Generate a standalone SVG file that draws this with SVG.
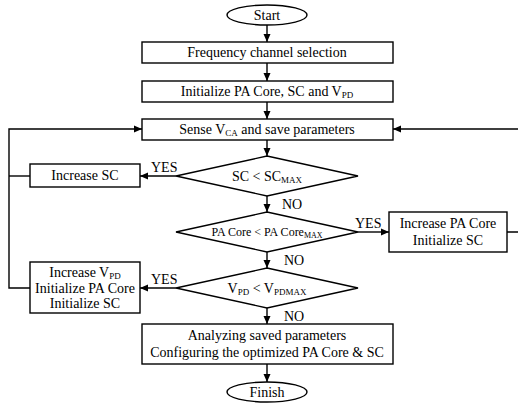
<svg xmlns="http://www.w3.org/2000/svg" width="518" height="405" viewBox="0 0 518 405">
<style>
.s{fill:none;stroke:#000;stroke-width:1.4}
.c{fill:none;stroke:#000;stroke-width:1.4}
text{font-family:'Liberation Serif',serif;font-size:14px;fill:#000;text-anchor:middle}
.sub{font-size:9px}
.lbl{text-anchor:start}
</style>
<defs>
<marker id="ah" viewBox="0 0 8 8" refX="8" refY="4" markerWidth="8" markerHeight="8" markerUnits="userSpaceOnUse" orient="auto">
<path d="M0,0.5 L8,4 L0,7.5 Z" fill="#000"/>
</marker>
</defs>
<rect width="518" height="405" fill="#fff"/>
<g id="connectors">
<path class="c" d="M267,25 V42" marker-end="url(#ah)"/>
<path class="c" d="M267,63 V81" marker-end="url(#ah)"/>
<path class="c" d="M267,102 V119" marker-end="url(#ah)"/>
<path class="c" d="M267,140 V156" marker-end="url(#ah)"/>
<path class="c" d="M176,176 H140" marker-end="url(#ah)"/>
<path class="c" d="M267,196 V212" marker-end="url(#ah)"/>
<path class="c" d="M358,232 H389" marker-end="url(#ah)"/>
<path class="c" d="M267,252 V268" marker-end="url(#ah)"/>
<path class="c" d="M176,288 H140" marker-end="url(#ah)"/>
<path class="c" d="M267,308 V324" marker-end="url(#ah)"/>
<path class="c" d="M267,364 V382" marker-end="url(#ah)"/>
<path class="c" d="M30,176 H9"/>
<path class="c" d="M30,288 H9 V129 H142" marker-end="url(#ah)"/>
<path class="c" d="M507,232 H519 V129 H393" marker-end="url(#ah)"/>
<text class="lbl" font-family="Liberation Serif" x="151" y="172">YES</text>
<text class="lbl" font-family="Liberation Serif" x="282" y="209">NO</text>
<text class="lbl" font-family="Liberation Serif" x="355" y="228">YES</text>
<text class="lbl" font-family="Liberation Serif" x="284" y="265">NO</text>
<text class="lbl" font-family="Liberation Serif" x="151" y="284">YES</text>
<text class="lbl" font-family="Liberation Serif" x="284" y="321">NO</text>
</g>
<g id="start">
<ellipse class="s" cx="267" cy="15" rx="40" ry="10"/>
<text font-family="Liberation Serif" x="267" y="19.5">Start</text>
</g>
<g id="freq">
<rect class="s" x="142" y="42" width="251" height="21"/>
<text font-family="Liberation Serif" x="267" y="57">Frequency channel selection</text>
</g>
<g id="init">
<rect class="s" x="142" y="81" width="251" height="21"/>
<text font-family="Liberation Serif" x="267" y="96">Initialize PA Core, SC and V<tspan class="sub" dy="1.5">PD</tspan></text>
</g>
<g id="sense">
<rect class="s" x="142" y="119" width="251" height="21"/>
<text font-family="Liberation Serif" x="267" y="134">Sense V<tspan class="sub" dy="1.5">CA</tspan><tspan dy="-1.5"> and save parameters</tspan></text>
</g>
<g id="d1">
<polygon class="s" points="267,156 358,176 267,196 176,176"/>
<text font-family="Liberation Serif" x="267" y="181">SC &lt; SC<tspan class="sub" dy="1.5">MAX</tspan></text>
</g>
<g id="incsc">
<rect class="s" x="30" y="164" width="110" height="23"/>
<text font-family="Liberation Serif" x="85" y="180">Increase SC</text>
</g>
<g id="d2">
<polygon class="s" points="267,212 358,232 267,252 176,232"/>
<text font-family="Liberation Serif" style="font-size:12px" x="267" y="236">PA Core &lt; PA Core<tspan class="sub" style="font-size:8px" dy="1.5">MAX</tspan></text>
</g>
<g id="incpa">
<rect class="s" x="389" y="212" width="118" height="40"/>
<text font-family="Liberation Serif" x="448" y="228">Increase PA Core</text>
<text font-family="Liberation Serif" x="448" y="245">Initialize SC</text>
</g>
<g id="d3">
<polygon class="s" points="267,268 358,288 267,308 176,288"/>
<text font-family="Liberation Serif" x="267" y="293">V<tspan class="sub" dy="1.5">PD</tspan><tspan dy="-1.5"> &lt; V</tspan><tspan class="sub" dy="1.5">PDMAX</tspan></text>
</g>
<g id="incvpd">
<rect class="s" x="30" y="262" width="110" height="51"/>
<text font-family="Liberation Serif" x="85" y="277">Increase V<tspan class="sub" dy="1.5">PD</tspan></text>
<text font-family="Liberation Serif" x="85" y="293">Initialize PA Core</text>
<text font-family="Liberation Serif" x="85" y="308">Initialize SC</text>
</g>
<g id="analyze">
<rect class="s" x="142" y="324" width="251" height="40"/>
<text font-family="Liberation Serif" x="267" y="340">Analyzing saved parameters</text>
<text font-family="Liberation Serif" x="267" y="357">Configuring the optimized PA Core &amp; SC</text>
</g>
<g id="finish">
<ellipse class="s" cx="267" cy="392" rx="40" ry="10"/>
<text font-family="Liberation Serif" x="267" y="396.5">Finish</text>
</g>
</svg>
